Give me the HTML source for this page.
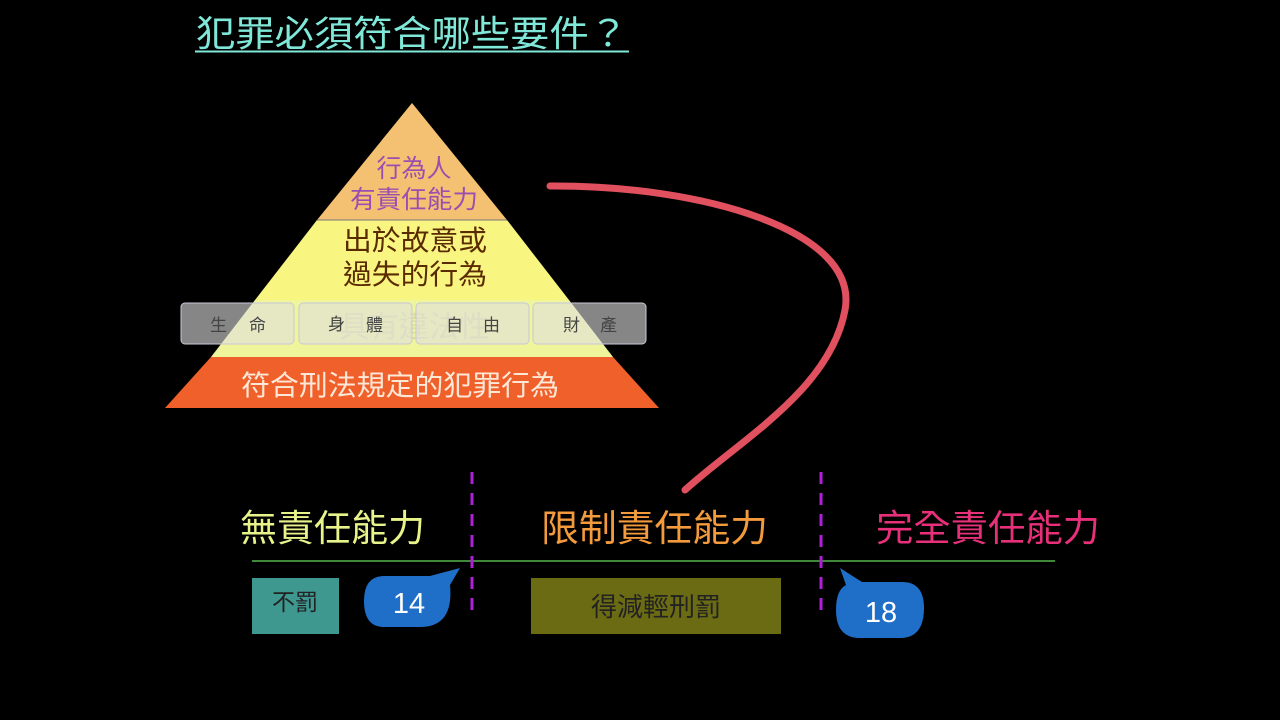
<!DOCTYPE html>
<html><head><meta charset="utf-8"><style>
html,body{margin:0;padding:0;background:#000;width:1280px;height:720px;overflow:hidden}
svg text{font-family:"Liberation Sans","Noto Sans CJK TC",sans-serif}
</style></head><body>
<svg width="1280" height="720" viewBox="0 0 1280 720" xmlns="http://www.w3.org/2000/svg">
<rect width="1280" height="720" fill="#000"/>
<text x="196" y="46" font-size="36" fill="#7fe8d8" textLength="432" lengthAdjust="spacingAndGlyphs">犯罪必須符合哪些要件？</text>
<line x1="195" y1="51.5" x2="629" y2="51.5" stroke="#7fe8d8" stroke-width="2"/>
<!-- pyramid -->
<polygon points="412,103 507,220 317,220" fill="#f4c172"/>
<polygon points="317,220 507,220 569,300 255,300" fill="#f8f681"/>
<polygon points="255,300 569,300 613,357 211,357" fill="#eef59a"/>
<polygon points="211,357 613,357 659,408 165,408" fill="#f0602a"/>
<line x1="317" y1="220" x2="507" y2="220" stroke="#777" stroke-width="1"/>
<text x="414" y="177" font-size="25" fill="#9a4fb0" text-anchor="middle">行為人</text>
<text x="414" y="208" font-size="25" fill="#9a4fb0" text-anchor="middle" textLength="128" lengthAdjust="spacingAndGlyphs">有責任能力</text>
<text x="415" y="250" font-size="28" fill="#5a2a00" text-anchor="middle" textLength="144" lengthAdjust="spacingAndGlyphs">出於故意或</text>
<text x="415" y="284" font-size="28" fill="#5a2a00" text-anchor="middle" textLength="144" lengthAdjust="spacingAndGlyphs">過失的行為</text>
<text x="414" y="337" font-size="30" fill="#d8d8a0" text-anchor="middle" opacity="0.8">具有違法性</text>
<g fill="#e0e0e0" fill-opacity="0.6" stroke="#c8c8d8" stroke-width="1">
<rect x="181" y="303" width="113" height="41" rx="4"/>
<rect x="299" y="303" width="113" height="41" rx="4"/>
<rect x="416" y="303" width="113" height="41" rx="4"/>
<rect x="533" y="303" width="113" height="41" rx="4"/>
</g>
<g font-size="17" fill="#444">
<text x="210" y="331">生</text><text x="249" y="331">命</text>
<text x="328" y="330">身</text><text x="366" y="331">體</text>
<text x="446" y="331">自</text><text x="483" y="331">由</text>
<text x="563" y="331">財</text><text x="600" y="331">產</text>
</g>
<text x="400" y="395" font-size="28" fill="#fde8d8" text-anchor="middle" textLength="318" lengthAdjust="spacingAndGlyphs">符合刑法規定的犯罪行為</text>
<!-- red stroke -->
<path d="M550,186 C700,185 860,230 845,310 C830,390 740,440 685,490" fill="none" stroke="#e0505e" stroke-width="7" stroke-linecap="round"/>
<!-- timeline -->
<line x1="252" y1="561" x2="1055" y2="561" stroke="#3f8a3a" stroke-width="2"/>
<line x1="472" y1="472" x2="472" y2="615" stroke="#b020d8" stroke-width="3" stroke-dasharray="12,9"/>
<line x1="821" y1="472" x2="821" y2="615" stroke="#b020d8" stroke-width="3" stroke-dasharray="12,9"/>
<text x="240" y="541" font-size="37" fill="#e8f48a" textLength="185" lengthAdjust="spacingAndGlyphs">無責任能力</text>
<text x="541" y="541" font-size="37" fill="#f39a3c" textLength="227" lengthAdjust="spacingAndGlyphs">限制責任能力</text>
<text x="876" y="541" font-size="37" fill="#e8307a" textLength="224" lengthAdjust="spacingAndGlyphs">完全責任能力</text>
<rect x="252" y="578" width="87" height="56" fill="#3e9890"/>
<text x="295" y="610" font-size="23" fill="#222" text-anchor="middle">不罰</text>
<rect x="531" y="578" width="250" height="56" fill="#6b6b14"/>
<text x="656" y="616" font-size="26" fill="#222" text-anchor="middle">得減輕刑罰</text>
<path d="M384,576 L430,576 L460,568 L450,585 Q454,627 420,627 L384,627 Q364,627 364,601 Q364,576 384,576Z" fill="#1f6fc8"/>
<text x="409" y="613" font-size="29" fill="#fff" text-anchor="middle">14</text>
<path d="M840,568 L862,582 L902,582 Q924,582 924,608 Q924,638 900,638 L860,638 Q836,638 836,610 Q836,590 846,585Z" fill="#1f6fc8"/>
<text x="881" y="622" font-size="29" fill="#fff" text-anchor="middle">18</text>
</svg>
</body></html>
